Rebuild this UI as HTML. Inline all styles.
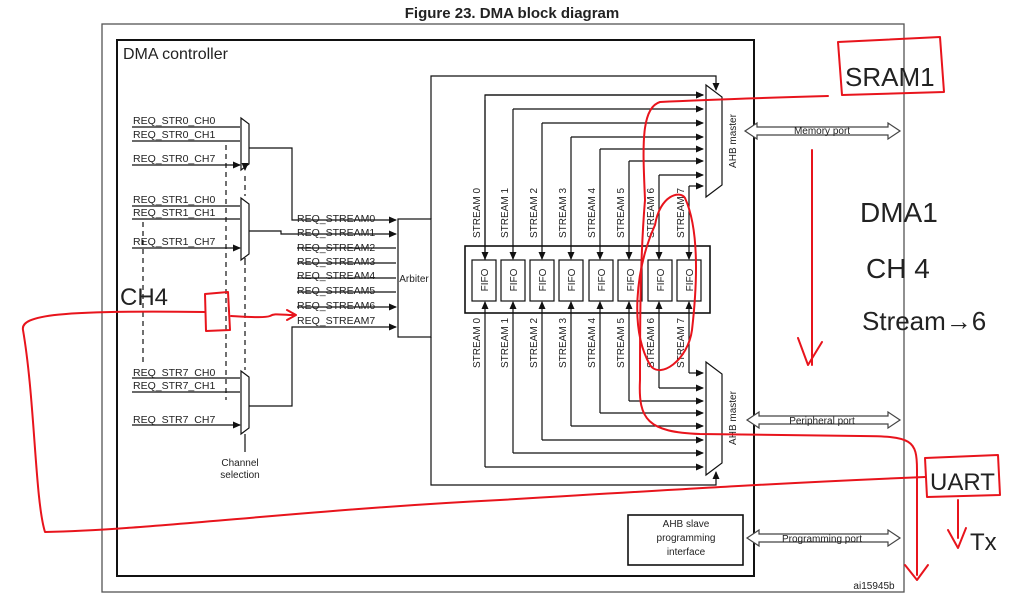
<!DOCTYPE html>
<html><head><meta charset="utf-8"><style>
html,body{margin:0;padding:0;background:#fff;}
svg{display:block;}
text{font-family:"Liberation Sans",Arial,sans-serif;fill:#222;}
</style></head><body>
<svg width="1024" height="598" viewBox="0 0 1024 598" xmlns="http://www.w3.org/2000/svg">
<defs>
<marker id="a" markerWidth="8" markerHeight="8" refX="7" refY="4" orient="auto" markerUnits="userSpaceOnUse"><path d="M0,0.5 L8,4 L0,7.5 Z" fill="#111"/></marker>
</defs>
<text x="512" y="18" text-anchor="middle" font-size="15" font-weight="bold" fill="#111">Figure 23. DMA block diagram</text>
<rect x="102" y="24" width="802" height="568" fill="none" stroke="#555" stroke-width="1.3"/>
<rect x="117" y="40" width="637" height="536" fill="none" stroke="#111" stroke-width="2"/>
<text x="123" y="59" font-size="16" fill="#222">DMA controller</text>

<g stroke="#111" stroke-width="1.2" fill="none">
<!-- mux0 -->
<path d="M241,118 L249,124 L249,164 L241,170 Z"/>
<path d="M132,127 H240 M132,141 H240 M132,165 H240" marker-end="url(#a)"/>
<path d="M249,148 H292 V220 H396" marker-end="url(#a)"/>
<!-- mux1 -->
<path d="M241,198 L249,204 L249,254 L241,260 Z"/>
<path d="M132,206 H240 M132,219 H240 M132,248 H240" marker-end="url(#a)"/>
<path d="M249,231 H281 V234 H396" marker-end="url(#a)"/>
<!-- mux7 -->
<path d="M241,371 L249,377 L249,428 L241,434 Z"/>
<path d="M132,378 H240 M132,392 H240 M132,425 H240" marker-end="url(#a)"/>
<path d="M249,406 H292 V327 H396" marker-end="url(#a)"/>
<path d="M297,248 H396 M297,263 H396 M297,278 H396 M297,292 H396 M297,307 H396" marker-end="url(#a)"/>
<!-- channel select -->
<path d="M245,452 V434 M245,258 V265 M245,166 V170" marker-end="url(#a)"/>
<path d="M245,176 V196 M245,268 V370" stroke-dasharray="5,4"/>
<path d="M143,222 V365 M226,145 V400" stroke-dasharray="5,4"/>
<!-- arbiter -->
<rect x="398" y="219" width="33" height="118" fill="#fff"/>
<!-- FIFO block -->
<rect x="465" y="246" width="245" height="67" stroke-width="1.6"/>
<rect x="472" y="260" width="24" height="41"/><rect x="501" y="260" width="24" height="41"/>
<rect x="530" y="260" width="24" height="41"/><rect x="559" y="260" width="24" height="41"/>
<rect x="589" y="260" width="24" height="41"/><rect x="618" y="260" width="24" height="41"/>
<rect x="648" y="260" width="24" height="41"/><rect x="677" y="260" width="24" height="41"/>
<!-- top lines -->
<path d="M485,260 V95 H703" marker-end="url(#a)"/>
<path d="M485,100 V259" marker-end="url(#a)"/>
<g marker-end="url(#a)">
<path d="M485,95 H703"/>
<path d="M513,109 H703"/><path d="M542,123 H703"/><path d="M571,137 H703"/>
<path d="M600,149 H703"/><path d="M629,161 H703"/><path d="M659,175 H703"/><path d="M689,186 H703"/>
<path d="M513,109 V259"/><path d="M542,123 V259"/><path d="M571,137 V259"/>
<path d="M600,149 V259"/><path d="M629,161 V259"/><path d="M659,175 V259"/><path d="M689,186 V259"/>
<!-- bottom lines -->
<path d="M485,467 H703"/><path d="M513,453 H703"/><path d="M542,440 H703"/><path d="M571,426 H703"/>
<path d="M600,413 H703"/><path d="M629,401 H703"/><path d="M659,388 H703"/><path d="M689,373 H703"/>
<path d="M485,467 V302"/><path d="M513,453 V302"/><path d="M542,440 V302"/><path d="M571,426 V302"/>
<path d="M600,413 V302"/><path d="M629,401 V302"/><path d="M659,388 V302"/><path d="M689,373 V302"/>
<path d="M431,219 V76 H716 V90"/>
<path d="M431,337 V485 H716 V472"/>
</g>
<!-- AHB masters -->
<path d="M706,85 L722,97 L722,185 L706,197 Z" fill="#fff"/>
<path d="M706,362 L722,374 L722,463 L706,475 Z" fill="#fff"/>
<!-- ports -->
<path d="M745,131 L757,123 V127 H888 V123 L900,131 L888,139 V135 H757 V139 Z" fill="#fff" stroke="#444"/>
<path d="M747,420 L759,412 V416 H888 V412 L900,420 L888,428 V424 H759 V428 Z" fill="#fff" stroke="#444"/>
<path d="M747,538 L759,530 V534 H888 V530 L900,538 L888,546 V542 H759 V546 Z" fill="#fff" stroke="#444"/>
<rect x="628" y="515" width="115" height="50" stroke-width="1.6"/>
</g>

<g font-size="10.5">
<text x="133" y="124">REQ_STR0_CH0</text><text x="133" y="138">REQ_STR0_CH1</text><text x="133" y="162">REQ_STR0_CH7</text>
<text x="133" y="203">REQ_STR1_CH0</text><text x="133" y="216">REQ_STR1_CH1</text><text x="133" y="245">REQ_STR1_CH7</text>
<text x="133" y="376">REQ_STR7_CH0</text><text x="133" y="389">REQ_STR7_CH1</text><text x="133" y="423">REQ_STR7_CH7</text>
<text x="297" y="222">REQ_STREAM0</text><text x="297" y="236">REQ_STREAM1</text><text x="297" y="251">REQ_STREAM2</text>
<text x="297" y="265">REQ_STREAM3</text><text x="297" y="279">REQ_STREAM4</text><text x="297" y="294">REQ_STREAM5</text>
<text x="297" y="309">REQ_STREAM6</text><text x="297" y="324">REQ_STREAM7</text>
</g>
<g font-size="10" text-anchor="middle">
<text x="240" y="466">Channel</text><text x="240" y="478">selection</text>
<text x="414" y="282">Arbiter</text>
<text x="686" y="527">AHB slave</text><text x="686" y="541">programming</text><text x="686" y="555">interface</text>
<text x="822" y="134">Memory port</text><text x="822" y="424">Peripheral port</text><text x="822" y="542">Programming port</text>
<text x="874" y="589">ai15945b</text>
</g>
<g font-size="10" text-anchor="middle">
<text transform="translate(736,141) rotate(-90)">AHB master</text>
<text transform="translate(736,418) rotate(-90)">AHB master</text>
<text transform="translate(488,280) rotate(-90)">FIFO</text><text transform="translate(517,280) rotate(-90)">FIFO</text>
<text transform="translate(546,280) rotate(-90)">FIFO</text><text transform="translate(575,280) rotate(-90)">FIFO</text>
<text transform="translate(605,280) rotate(-90)">FIFO</text><text transform="translate(634,280) rotate(-90)">FIFO</text>
<text transform="translate(664,280) rotate(-90)">FIFO</text><text transform="translate(693,280) rotate(-90)">FIFO</text>
<text transform="translate(480,213) rotate(-90)">STREAM 0</text><text transform="translate(508,213) rotate(-90)">STREAM 1</text>
<text transform="translate(537,213) rotate(-90)">STREAM 2</text><text transform="translate(566,213) rotate(-90)">STREAM 3</text>
<text transform="translate(595,213) rotate(-90)">STREAM 4</text><text transform="translate(624,213) rotate(-90)">STREAM 5</text>
<text transform="translate(654,213) rotate(-90)">STREAM 6</text><text transform="translate(684,213) rotate(-90)">STREAM 7</text>
<text transform="translate(480,343) rotate(-90)">STREAM 0</text><text transform="translate(508,343) rotate(-90)">STREAM 1</text>
<text transform="translate(537,343) rotate(-90)">STREAM 2</text><text transform="translate(566,343) rotate(-90)">STREAM 3</text>
<text transform="translate(595,343) rotate(-90)">STREAM 4</text><text transform="translate(624,343) rotate(-90)">STREAM 5</text>
<text transform="translate(654,343) rotate(-90)">STREAM 6</text><text transform="translate(684,343) rotate(-90)">STREAM 7</text>
</g>

<!-- red annotations -->
<g stroke="#e8141c" stroke-width="2" fill="none" stroke-linecap="round" stroke-linejoin="round">
<path d="M838,42 L940,37 L944,92 L842,95 Z"/>
<path d="M828,96 C760,98 700,100 660,102 C640,108 643,150 645,200 C640,260 640,330 640,380 C638,420 648,432 700,434 L860,436 C912,436 917,440 917,470 L917,575"/>
<path d="M905,565 L917,580 L928,565"/>
<path d="M655,225 C660,195 680,190 685,198 C695,220 700,260 692,330 C688,360 660,380 650,365 C630,330 635,270 655,225 Z"/>
<path d="M812,150 V365 M798,338 L808,365 L822,342"/>
<path d="M925,458 L998,455 L1000,495 L927,497 Z"/>
<path d="M925,477 C800,482 700,488 500,500 C300,510 150,530 45,532 C35,500 35,400 23,330 C20,315 60,310 205,312"/>
<path d="M205,294 L228,292 L230,330 L206,331 Z"/>
<path d="M231,316 C250,317 265,318 270,316 C275,313 280,315 295,315 M287,310 L296,315 L287,320"/>
<path d="M958,500 V538 M948,530 L958,548 L966,528"/>
</g>
<g fill="#e8141c" font-family="'Liberation Sans',sans-serif" font-size="28">
<text x="845" y="86" font-size="26" fill="#e8141c" style="font-family:'Liberation Sans',sans-serif">SRAM1</text>
<text x="860" y="222" fill="#e8141c">DMA1</text>
<text x="866" y="278" fill="#e8141c">CH 4</text>
<text x="862" y="330" fill="#e8141c" font-size="26">Stream→6</text>
<text x="120" y="305" fill="#e8141c" font-size="24">CH4</text>
<text x="930" y="490" fill="#e8141c" font-size="24">UART</text>
<text x="970" y="550" fill="#e8141c" font-size="24">Tx</text>
</g>
</svg>
</body></html>
